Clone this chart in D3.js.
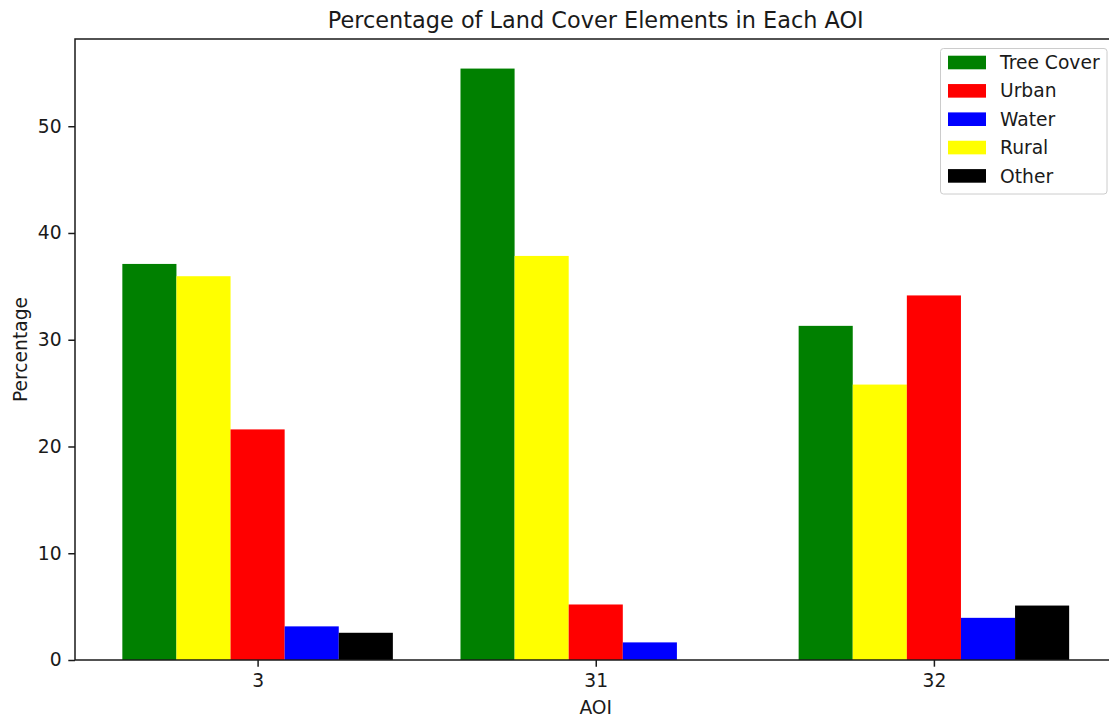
<!DOCTYPE html>
<html>
<head>
<meta charset="utf-8">
<script src="https://d3js.org/d3.v7.min.js"></script>
<style>
  body { margin: 0; background: #fff; }
  svg { display: block; font-family: "DejaVu Sans", sans-serif; }
</style>
</head>
<body>
<div id="chart"></div>
<script>
const width = 1109, height = 717;

// data
const aois = ["3", "31", "32"];
const barOrder = ["Tree Cover", "Rural", "Urban", "Water", "Other"];
const legendOrder = ["Tree Cover", "Urban", "Water", "Rural", "Other"];
const colors = { "Tree Cover": "green", "Urban": "red", "Water": "blue", "Rural": "yellow", "Other": "black" };
const treeCover = [37.1, 55.4, 31.3];
const rural = [35.95, 37.85, 25.8];
const urban = [21.6, 5.2, 34.15];
const water = [3.15, 1.65, 3.95];
const other = [2.55, 0, 5.1];
const seriesValues = { "Tree Cover": treeCover, "Rural": rural, "Urban": urban, "Water": water, "Other": other };
const yTicks = [0, 10, 20, 30, 40, 50];

const plotL = 75, plotR = 1116.5, plotT = 39, plotB = 660;
const barW = 0.16;
const fs = 18.7;      // tick / label / legend font size
const tickLen = 6.7;
const textCol = "#1a1a1a";

const svg = d3.select("#chart").append("svg")
  .attr("width", width)
  .attr("height", height);

// categorical positions 0..n-1 with matplotlib-like margins
const x = d3.scaleLinear()
  .domain([-0.4 - 0.14, aois.length - 1 + 0.4 + 0.14])
  .range([plotL, plotR]);

const maxVal = d3.max(barOrder.flatMap((k) => seriesValues[k]));
const y = d3.scaleLinear()
  .domain([0, maxVal * 1.05])
  .range([plotB, plotT]);

// bars
barOrder.forEach((key, j) => {
  svg.append("g")
    .selectAll("rect")
    .data(seriesValues[key])
    .join("rect")
    .attr("x", (d, i) => x(i - 0.4 + j * barW))
    .attr("width", x(barW) - x(0))
    .attr("y", (d) => y(d))
    .attr("height", (d) => y(0) - y(d))
    .attr("fill", colors[key]);
});

// axes
const xAxis = svg.append("g")
  .attr("transform", `translate(0,${plotB})`)
  .call(d3.axisBottom(x).tickValues(d3.range(aois.length)).tickFormat((i) => aois[i]).tickSize(tickLen).tickPadding(6.7).tickSizeOuter(0));
xAxis.select(".domain").remove();

const yAxis = svg.append("g")
  .attr("transform", `translate(${plotL},0)`)
  .call(d3.axisLeft(y).tickValues(yTicks).tickSize(tickLen).tickPadding(6.7).tickSizeOuter(0));
yAxis.select(".domain").remove();

[xAxis, yAxis].forEach((a) => {
  a.selectAll("text").attr("font-size", fs).attr("fill", textCol).attr("font-family", "DejaVu Sans");
  a.selectAll("line").attr("stroke", textCol).attr("stroke-width", 1.5);
});

// spines
svg.append("rect")
  .attr("x", plotL).attr("y", plotT)
  .attr("width", plotR - plotL).attr("height", plotB - plotT)
  .attr("fill", "none").attr("stroke", textCol).attr("stroke-width", 1.5);

// titles
svg.append("text")
  .attr("x", (plotL + plotR) / 2).attr("y", 28)
  .attr("text-anchor", "middle").attr("font-size", 22.4)
  .attr("fill", textCol)
  .text("Percentage of Land Cover Elements in Each AOI");

svg.append("text")
  .attr("x", (plotL + plotR) / 2).attr("y", 714)
  .attr("text-anchor", "middle").attr("font-size", fs)
  .attr("fill", textCol)
  .text("AOI");

svg.append("text")
  .attr("transform", `translate(27,${(plotT + plotB) / 2}) rotate(-90)`)
  .attr("text-anchor", "middle").attr("font-size", fs)
  .attr("fill", textCol)
  .text("Percentage");

// legend
const lg = svg.append("g").attr("transform", "translate(940.5,48.5)");
lg.append("rect")
  .attr("width", 166.5).attr("height", 145.5).attr("rx", 3)
  .attr("fill", "#fff").attr("fill-opacity", 0.8)
  .attr("stroke", "#ccc");
legendOrder.forEach((key, i) => {
  const row = lg.append("g").attr("transform", `translate(0,${14 + i * 28.35})`);
  row.append("rect")
    .attr("x", 7.5).attr("y", -6.8)
    .attr("width", 38).attr("height", 13.6)
    .attr("fill", colors[key]);
  row.append("text")
    .attr("x", 59.5).attr("y", 6.6)
    .attr("font-size", fs)
    .attr("fill", textCol)
    .text(key);
});
</script>
</body>
</html>
